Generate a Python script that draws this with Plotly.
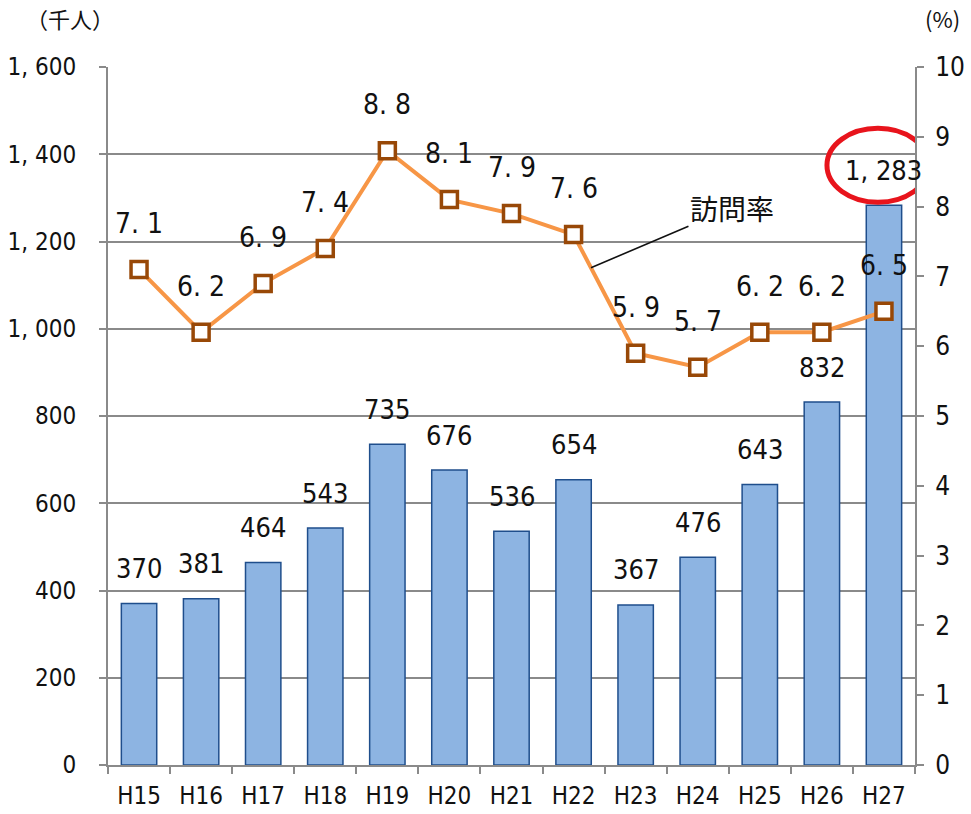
import plotly.graph_objects as go

# Fiscal years (Heisei era)
years = ["H15", "H16", "H17", "H18", "H19", "H20", "H21", "H22", "H23", "H24", "H25", "H26", "H27"]
# Visitors (thousand persons)
visitors = [370, 381, 464, 543, 735, 676, 536, 654, 367, 476, 643, 832, 1283]
# Visit rate (%)
visit_rate = [7.1, 6.2, 6.9, 7.4, 8.8, 8.1, 7.9, 7.6, 5.9, 5.7, 6.2, 6.2, 6.5]

left_ticks = [0, 200, 400, 600, 800, 1000, 1200, 1400, 1600]
right_ticks = list(range(0, 11))

FONT = "DejaVu Sans Condensed, Liberation Sans Narrow, sans-serif"
CJK = "Noto Sans CJK JP, sans-serif"
GRID = "#8a8a8a"

W, H = 971, 814
ML, MR, MT, MB = 108, 56, 67, 49
PW, PH = W - ML - MR, H - MT - MB


def wide_num(v):
    return f"{v:,}".replace(",", ", ")


def wide_rate(v):
    return f"{v:.1f}".replace(".", ". ")


fig = go.Figure()

fig.add_trace(go.Bar(
    x=years, y=visitors, width=0.57,
    marker=dict(color="#8db4e2", line=dict(color="#1f4e8c", width=1.5)),
    yaxis="y", showlegend=False, hoverinfo="skip",
))

fig.add_trace(go.Scatter(
    x=years, y=visit_rate, yaxis="y2", mode="lines+markers",
    line=dict(color="#f79646", width=4),
    marker=dict(symbol="square", size=16, color="white",
                line=dict(color="#984807", width=3.5)),
    showlegend=False, hoverinfo="skip",
))

annotations = []
for yr, v in zip(years, visitors):
    annotations.append(dict(x=yr, y=v, xref="x", yref="y", text=wide_num(v),
                            showarrow=False, yanchor="middle", yshift=35,
                            font=dict(family=FONT, size=27, color="#111")))
for yr, v in zip(years, visit_rate):
    annotations.append(dict(x=yr, y=v, xref="x", yref="y2", text=wide_rate(v),
                            showarrow=False, yanchor="middle", yshift=46,
                            font=dict(family=FONT, size=28, color="#111")))

# Callout for the rate line, pointing at the H22-H23 segment
t = 0.28
px = years.index("H22") + t
py = visit_rate[7] + (visit_rate[8] - visit_rate[7]) * t
annotations.append(dict(x=px, y=py, xref="x", yref="y2", text="訪問率",
                        showarrow=True, arrowhead=0, arrowwidth=1.6, arrowcolor="#111",
                        ax=141, ay=-60, standoff=0,
                        font=dict(family=CJK, size=28, color="#111")))

# Axis unit captions
annotations.append(dict(x=(70 - ML) / PW, y=(H - MB - 18) / PH, xref="paper", yref="paper",
                        text="（千人）", showarrow=False, xanchor="center", yanchor="middle",
                        font=dict(family=CJK, size=22, color="#111")))
annotations.append(dict(x=(942 - ML) / PW, y=(H - MB - 18) / PH, xref="paper", yref="paper",
                        text="(%)", showarrow=False, xanchor="center", yanchor="middle",
                        font=dict(family=CJK, size=22, color="#111")))

fig.update_layout(
    width=W, height=H,
    margin=dict(l=ML, r=MR, t=MT, b=MB),
    paper_bgcolor="white", plot_bgcolor="white",
    annotations=annotations,
    xaxis=dict(
        type="category", range=[-0.5, len(years) - 0.5], automargin=False,
        tickson="boundaries", ticks="outside", ticklen=7, tickcolor=GRID, tickwidth=1.5,
        showline=True, linecolor=GRID, linewidth=2, showgrid=False,
        tickfont=dict(family=FONT, size=24, color="#111"), ticklabelstandoff=8,
    ),
    yaxis=dict(
        range=[0, 1600], tickvals=left_ticks, ticktext=[wide_num(v) for v in left_ticks],
        automargin=False,
        showgrid=True, gridcolor=GRID, gridwidth=1.5,
        ticks="outside", ticklen=7, tickcolor=GRID, tickwidth=1.5,
        showline=True, linecolor=GRID, linewidth=2, zeroline=False,
        tickfont=dict(family=FONT, size=24, color="#111"), ticklabelstandoff=18,
    ),
    yaxis2=dict(
        range=[0, 10], tickvals=right_ticks, overlaying="y", side="right", automargin=False,
        showgrid=False, ticks="outside", ticklen=7, tickcolor=GRID, tickwidth=1.5,
        showline=True, linecolor=GRID, linewidth=2, zeroline=False,
        tickfont=dict(family=FONT, size=26, color="#111"), ticklabelstandoff=6,
    ),
    shapes=[dict(
        type="circle", xref="x", yref="y",
        xsizemode="pixel", ysizemode="pixel",
        xanchor=years[-1], yanchor=visitors[-1],
        x0=-57, x1=45, y0=3, y1=77,
        line=dict(color="#e8141c", width=5),
    )],
)

fig.write_html("out.html")
